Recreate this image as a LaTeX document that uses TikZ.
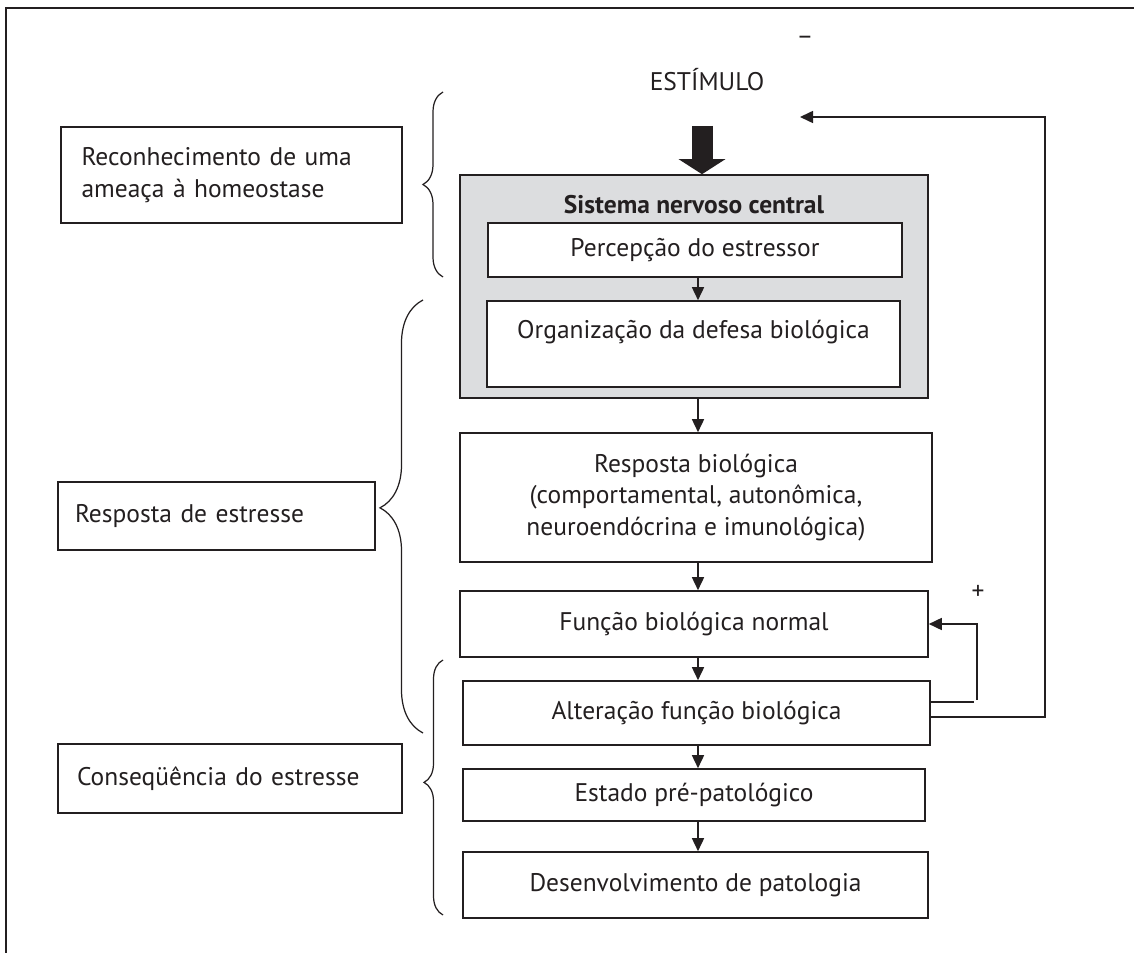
\documentclass[tikz,border=0pt]{standalone}
\usepackage{fontspec}
\setmainfont{PT Sans}
\usetikzlibrary{arrows.meta,decorations.pathreplacing}
\definecolor{linha}{HTML}{231F20}
\definecolor{cinza}{HTML}{DCDDDF}

\begin{document}
\begin{tikzpicture}[font=\fontsize{14.5}{18}\selectfont]
  \tikzstyle{every node}=[inner sep=0pt, text=linha]
  \tikzstyle{caixa}=[draw=linha, line width=0.9pt, align=center]
  \tikzstyle{rotulo}=[caixa, align=left]
  \tikzstyle{seta}=[draw=linha, line width=0.9pt, -{Triangle[length=0.26cm,width=0.24cm]}]
  \tikzstyle{chave}=[draw=linha, line width=0.7pt, decorate]
  \useasboundingbox (0,0) rectangle (22.68,-19.06);
  % moldura
  \draw[linha, line width=1pt] (0.12,-19.06) -- (0.12,-0.16) -- (22.68,-0.16);

  % coluna central
  \node (est) at (14.14,-1.6) {ESTÍMULO};
  \node (menos) at (16.1,-0.8) {–};
  \node[caixa, fill=cinza, minimum width=9.36cm, minimum height=4.46cm] (snc) at (13.88,-5.73) {};
  \node[font=\fontsize{14.5}{18}\selectfont\bfseries] (snctxt) at (13.88,-4.1) {Sistema nervoso central};
  \node[caixa, fill=white, minimum width=8.28cm, minimum height=1.08cm] (perc) at (13.9,-5.0) {Percepção do estressor};
  \node[caixa, fill=white, minimum width=8.26cm, minimum height=1.72cm] (org) at (13.87,-6.88) {};
  \node (orgtxt) at (13.87,-6.64) {Organização da defesa biológica};
  \node[caixa, minimum width=9.44cm, minimum height=2.58cm] (resp) at (13.92,-9.95)
    {Resposta biológica\\(comportamental, autonômica,\\neuroendócrina e imunológica)};
  \node[caixa, minimum width=9.36cm, minimum height=1.32cm] (func) at (13.88,-12.48) {Função biológica normal};
  \node[caixa, minimum width=9.34cm, minimum height=1.28cm] (alt) at (13.93,-14.26) {Alteração função biológica};
  \node[caixa, minimum width=9.24cm, minimum height=1.04cm] (estado) at (13.88,-15.9) {Estado pré-patológico};
  \node[caixa, minimum width=9.3cm, minimum height=1.32cm] (desenv) at (13.91,-17.7) {Desenvolvimento de patologia};

  % caixas da esquerda
  \node[rotulo, minimum width=6.82cm, minimum height=1.92cm, text width=6.0cm] (recon) at (4.63,-3.5)
    {\makebox[6.0cm][s]{Reconhecimento de uma}\\ameaça à homeostase};
  \node[rotulo, minimum width=6.34cm, minimum height=1.36cm, text width=5.66cm] (rest) at (4.33,-10.32) {Resposta de estresse};
  \node[rotulo, minimum width=6.88cm, minimum height=1.38cm, text width=6.12cm] (cons) at (4.6,-15.57) {Conseqüência do estresse};

  % chaves
  \draw[chave, decoration={brace, amplitude=0.4cm, aspect=0.5}] (8.86,-5.54) -- (8.86,-1.84);
  \draw[chave, decoration={brace, amplitude=0.86cm, aspect=0.52}] (8.46,-14.66) -- (8.46,-6.0);
  \draw[chave, decoration={brace, amplitude=0.38cm, aspect=0.52}] (8.86,-18.3) -- (8.86,-13.2);

  % setas
  \coordinate (topo) at (14.04,-2.52);
  \draw[linha, line width=0.42cm, -{Triangle[width=0.92cm,length=0.3cm]}] (topo) -- (topo |- snc.north);
  \coordinate (eixo) at (13.96,0);
  \foreach \a/\b in {perc/org, snc/resp, resp/func, func/alt, alt/estado, estado/desenv}
    \draw[seta] (\a.south -| eixo) -- (\b.north -| eixo);

  % realimentacao
  \coordinate (retro) at (20.9,-2.34);
  \coordinate (alvo) at (16.0,-2.34);
  \draw[seta] ([yshift=-0.08cm]alt.east) -| (retro) -- (alvo);
  \draw[linha, line width=0.9pt] ([yshift=0.22cm]alt.east) -- ++(0.86,0);
  \coordinate (mais) at (19.54,-14.0);
  \draw[seta] (mais) |- (func.east);
  \node (sinal) at (19.56,-11.84) {+};
\end{tikzpicture}
\end{document}
